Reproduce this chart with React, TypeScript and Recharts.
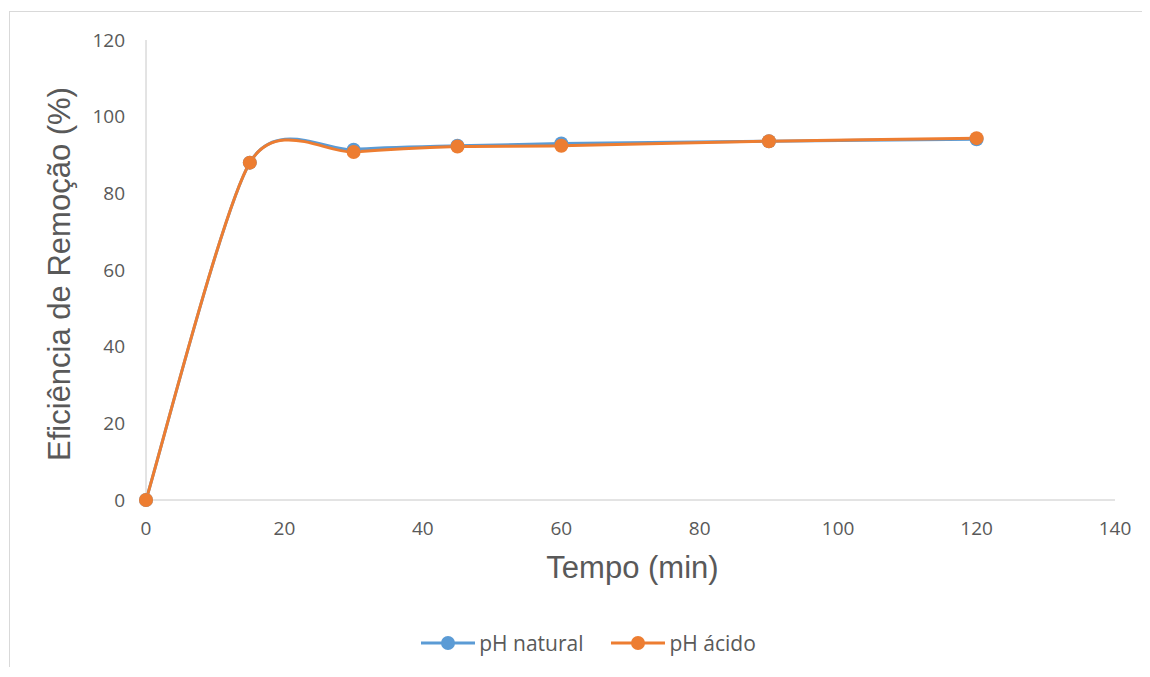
import { LineChart, Line, XAxis, YAxis, Legend } from "recharts";

// valores (tempo em min, eficiência em %)
const tempo = [0, 15, 30, 45, 60, 90, 120];
const phNatural = [0, 88, 91.4, 92.4, 93, 93.6, 94.1];
const phAcido = [0, 88, 90.8, 92.2, 92.4, 93.6, 94.4];

const xTicks = [0, 20, 40, 60, 80, 100, 120, 140];
const yTicks = [0, 20, 40, 60, 80, 100, 120];

const BLUE = "#5B9BD5";
const ORANGE = "#ED7D31";
const TXT = "#595959";

const rows = tempo.map((t, i) => ({ tempo: t, natural: phNatural[i], acido: phAcido[i] }));

const series = [
  { key: "natural", name: "pH natural", color: BLUE },
  { key: "acido", name: "pH ácido", color: ORANGE },
];

// suavização parecida com a do Excel (Catmull-Rom mais "frouxa")
const K = 0.13;
function excelSmooth(context: any) {
  let pts: number[][] = [];
  return {
    areaStart() {},
    areaEnd() {},
    lineStart() {
      pts = [];
    },
    point(x: number, y: number) {
      pts.push([+x, +y]);
    },
    lineEnd() {
      const n = pts.length;
      if (!n) return;
      context.moveTo(pts[0][0], pts[0][1]);
      for (let i = 0; i < n - 1; i++) {
        const p0 = pts[Math.max(i - 1, 0)];
        const p1 = pts[i];
        const p2 = pts[i + 1];
        const p3 = pts[Math.min(i + 2, n - 1)];
        context.bezierCurveTo(
          p1[0] + (p2[0] - p0[0]) * K,
          p1[1] + (p2[1] - p0[1]) * K,
          p2[0] - (p3[0] - p1[0]) * K,
          p2[1] - (p3[1] - p1[1]) * K,
          p2[0],
          p2[1]
        );
      }
    },
  };
}

function LegendBox() {
  return (
    <div
      style={{
        display: "flex",
        justifyContent: "center",
        alignItems: "center",
        height: 40,
        paddingLeft: 80,
        fontFamily: "'Open Sans', sans-serif",
        fontSize: 21,
        color: TXT,
      }}
    >
      {series.map((s) => (
        <div key={s.key} style={{ display: "flex", alignItems: "center", marginRight: 28 }}>
          <svg width={54} height={16} style={{ marginRight: 4 }}>
            <line x1={0} y1={8} x2={54} y2={8} stroke={s.color} strokeWidth={3} />
            <circle cx={27} cy={8} r={7} fill={s.color} />
          </svg>
          <span>{s.name}</span>
        </div>
      ))}
    </div>
  );
}

export default function App() {
  const tick = { fill: TXT, fontSize: 19, fontFamily: "'Open Sans', sans-serif" };
  const titleFont = { fontFamily: "'Liberation Sans', Arial, sans-serif", fontSize: 31, fill: TXT };

  return (
    <div
      style={{
        marginLeft: 1,
        marginTop: 3,
        width: 1140,
        borderTop: "1px solid #d9d9d9",
        borderLeft: "1px solid #d9d9d9",
        background: "#fff",
      }}
    >
      <LineChart width={1138} height={655} data={rows} margin={{ top: 28, right: 33, left: 0, bottom: 4 }}>
        <XAxis
          dataKey="tempo"
          type="number"
          domain={[0, 140]}
          ticks={xTicks}
          tickLine={false}
          tickSize={0}
          tickMargin={22}
          height={123}
          stroke="#c8c8c8"
          tick={tick}
          label={(p: any) => {
            const vb = p.viewBox;
            return (
              <text x={vb.x + vb.width / 2 + 2} y={vb.y + 78} textAnchor="middle" {...titleFont}>
                Tempo (min)
              </text>
            );
          }}
        />
        <YAxis
          type="number"
          domain={[0, 120]}
          ticks={yTicks}
          tickLine={false}
          tickSize={0}
          tickMargin={21}
          width={136}
          stroke="#c8c8c8"
          tick={tick}
          label={(p: any) => {
            const vb = p.viewBox;
            const cy = vb.y + vb.height / 2 + 4;
            return (
              <text transform={`translate(60, ${cy}) rotate(-90)`} textAnchor="middle" {...titleFont}>
                Eficiência de Remoção (%)
              </text>
            );
          }}
        />
        <Legend verticalAlign="bottom" content={() => <LegendBox />} />
        {series.map((s) => (
          <Line
            key={s.key}
            type={excelSmooth as any}
            dataKey={s.key}
            name={s.name}
            stroke={s.color}
            strokeWidth={3}
            dot={{ r: 7, fill: s.color, stroke: "none" }}
            activeDot={false}
            isAnimationActive={false}
          />
        ))}
      </LineChart>
    </div>
  );
}
